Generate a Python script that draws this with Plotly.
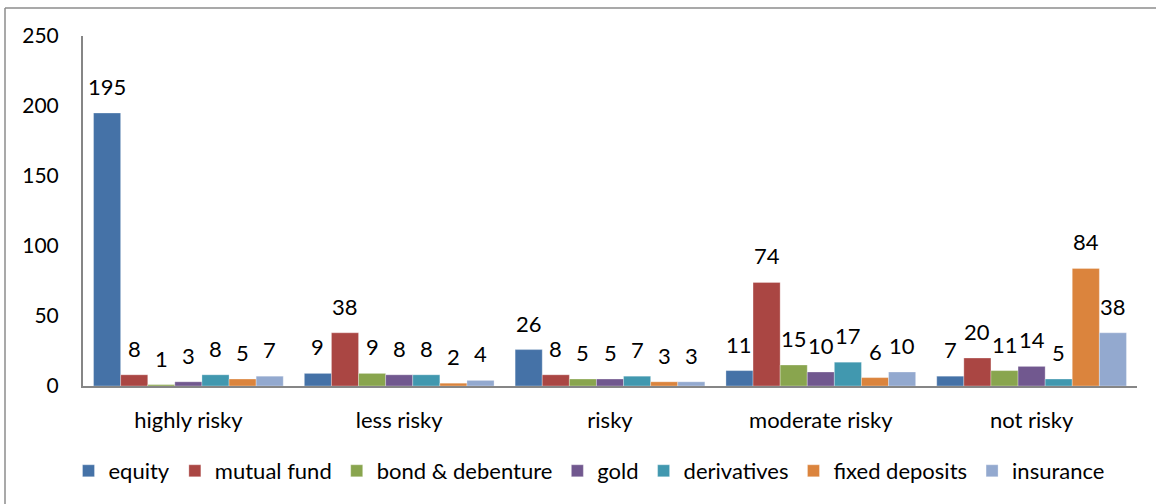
import plotly.graph_objects as go

# Risk perception categories and responses per investment avenue
categories = ["highly risky", "less risky", "risky", "moderate risky", "not risky"]

equity = [195, 9, 26, 11, 7]
mutual_fund = [8, 38, 8, 74, 20]
bond_debenture = [1, 9, 5, 15, 11]
gold = [3, 8, 5, 10, 14]
derivatives = [8, 8, 7, 17, 5]
fixed_deposits = [5, 2, 3, 6, 84]
insurance = [7, 4, 3, 10, 38]

series_names = ["equity", "mutual fund", "bond & debenture", "gold",
                "derivatives", "fixed deposits", "insurance"]
series_values = [equity, mutual_fund, bond_debenture, gold,
                 derivatives, fixed_deposits, insurance]
series_colors = ["#4572A7", "#AA4643", "#89A54E", "#71588F",
                 "#4198AF", "#DB843D", "#93A9CF"]

y_ticks = [0, 50, 100, 150, 200, 250]

W, H = 1156, 504
plot_left, plot_right, plot_top, plot_bottom = 83, 1137, 36, 386
FONT = "Lato, Calibri, 'Open Sans', sans-serif"
BARGAP = 0.1

fig = go.Figure()
for name, vals, col in zip(series_names, series_values, series_colors):
    fig.add_trace(go.Bar(
        name=name,
        x=categories,
        y=vals,
        marker=dict(color=col, line=dict(color="rgba(255,255,255,0.5)", width=0.6)),
    ))

# Value labels above each bar, placed at the bar's slot within its group
n_series = len(series_names)
slot = (1 - BARGAP) / n_series
annotations = []
for i, vals in enumerate(series_values):
    for c, v in enumerate(vals):
        annotations.append(dict(
            x=c - (1 - BARGAP) / 2 + (i + 0.5) * slot,
            y=v, xref="x", yref="y",
            text=str(v), showarrow=False,
            yanchor="bottom", yshift=11,
            font=dict(size=22, color="#000000", family=FONT),
        ))

# Outer chart border (left and top edges visible)
pw = plot_right - plot_left
ph = plot_bottom - plot_top
def px_x(x):
    return (x - plot_left) / pw
def px_y(y):
    return (plot_bottom - y) / ph

fig.add_shape(type="line", xref="paper", yref="paper",
              x0=px_x(5), x1=px_x(5), y0=px_y(8), y1=px_y(H + 5),
              line=dict(color="#8c8c8c", width=1.5))
fig.add_shape(type="line", xref="paper", yref="paper",
              x0=px_x(5), x1=px_x(W + 5), y0=px_y(8), y1=px_y(8),
              line=dict(color="#8c8c8c", width=1.5))

fig.update_layout(
    width=W, height=H,
    margin=dict(l=plot_left, r=W - plot_right, t=plot_top, b=H - plot_bottom),
    paper_bgcolor="white",
    plot_bgcolor="white",
    barmode="group",
    bargap=BARGAP,
    bargroupgap=0,
    font=dict(family=FONT, size=22, color="#000000"),
    annotations=annotations,
    legend=dict(
        orientation="h",
        x=px_x(589), xanchor="center",
        y=px_y(471), yanchor="middle",
        font=dict(size=22, family=FONT),
        itemwidth=30,
        tracegroupgap=0,
        bgcolor="rgba(0,0,0,0)",
    ),
    showlegend=True,
)

fig.update_xaxes(
    showline=True, linecolor="#868686", linewidth=2,
    showgrid=False, ticks="", ticklabelstandoff=14,
    tickfont=dict(size=22, family=FONT),
)
fig.update_yaxes(
    range=[0, 250], tickvals=y_ticks,
    showline=True, linecolor="#868686", linewidth=2,
    showgrid=False, ticks="", ticklabelstandoff=18,
    zeroline=False,
    tickfont=dict(size=21, family=FONT),
)

fig.write_html("out.html")
